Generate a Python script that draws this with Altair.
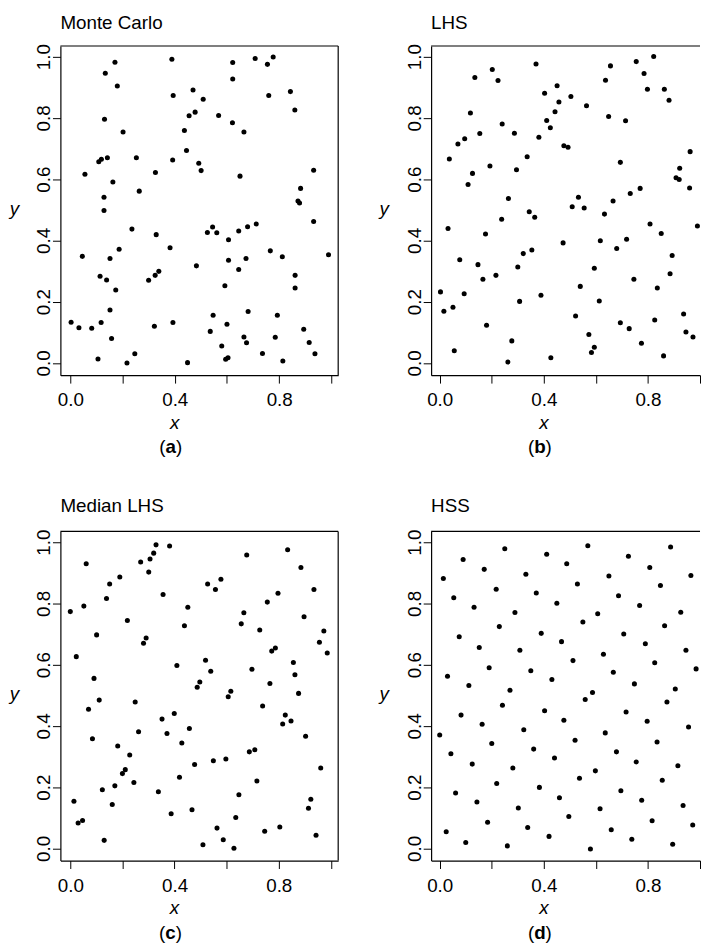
import altair as alt
import pandas as pd

FONT = "Liberation Sans"
FS = 19
TICKS = [0.0, 0.2, 0.4, 0.6, 0.8, 1.0]

# ---- (a) Monte Carlo ----
mc_x = [0.056, 0.134, 0.171, 0.180, 0.131, 0.202, 0.109, 0.119, 0.142, 0.163, 0.129, 0.253, 0.264, 0.326,
        0.389, 0.394, 0.392, 0.470, 0.509, 0.478, 0.455, 0.437, 0.445, 0.492, 0.501, 0.568, 0.622, 0.622,
        0.621, 0.665, 0.650, 0.708, 0.755, 0.777, 0.760, 0.843, 0.860, 0.932, 0.882, 0.872, 0.878,
        0.129, 0.046, 0.114, 0.139, 0.152, 0.187, 0.174, 0.236, 0.152, 0.118, 0.003, 0.033, 0.082, 0.158,
        0.106, 0.217, 0.247, 0.329, 0.300, 0.325, 0.339, 0.322, 0.382, 0.393, 0.449, 0.483, 0.525, 0.545,
        0.561, 0.606, 0.645, 0.679, 0.712, 0.606, 0.645, 0.673, 0.592, 0.547, 0.536, 0.600, 0.580, 0.595,
        0.604, 0.681, 0.665, 0.675, 0.736, 0.766, 0.812, 0.793, 0.785, 0.814, 0.932, 0.989, 0.861, 0.861,
        0.894, 0.915, 0.937]
mc_y = [0.616, 0.946, 0.982, 0.904, 0.796, 0.754, 0.657, 0.665, 0.670, 0.591, 0.541, 0.670, 0.561, 0.622,
        0.992, 0.873, 0.663, 0.891, 0.861, 0.819, 0.807, 0.759, 0.694, 0.652, 0.628, 0.808, 0.981, 0.927,
        0.784, 0.754, 0.610, 0.994, 0.975, 0.999, 0.873, 0.886, 0.826, 0.629, 0.570, 0.529, 0.522,
        0.498, 0.348, 0.283, 0.271, 0.341, 0.371, 0.238, 0.437, 0.173, 0.132, 0.133, 0.115, 0.113, 0.080,
        0.013, 0.000, 0.030, 0.419, 0.270, 0.286, 0.299, 0.120, 0.376, 0.132, 0.001, 0.317, 0.426, 0.444,
        0.425, 0.402, 0.431, 0.445, 0.454, 0.335, 0.305, 0.341, 0.252, 0.156, 0.103, 0.126, 0.055, 0.012,
        0.017, 0.168, 0.085, 0.066, 0.031, 0.366, 0.347, 0.156, 0.084, 0.006, 0.462, 0.353, 0.286, 0.245,
        0.110, 0.067, 0.030]

# ---- (b) LHS ----
lhs_x = [0.037, 0.070, 0.096, 0.118, 0.135, 0.154, 0.126, 0.109, 0.202, 0.224, 0.240, 0.193, 0.287, 0.295,
         0.264, 0.336, 0.370, 0.381, 0.403, 0.411, 0.425, 0.443, 0.451, 0.458, 0.504, 0.477, 0.493, 0.533,
         0.564, 0.637, 0.656, 0.649, 0.714, 0.694, 0.666, 0.732, 0.770, 0.755, 0.785, 0.798, 0.822, 0.863,
         0.881, 0.962, 0.922, 0.908, 0.920, 0.960,
         0.509, 0.555, 0.344, 0.365, 0.238, 0.032, 0.176, 0.633, 0.474, 0.617, 0.680, 0.718, 0.808, 0.851,
         0.990, 0.077, 0.147, 0.166, 0.216, 0.300, 0.321, 0.354, 0.003, 0.016, 0.051, 0.094, 0.180, 0.056,
         0.307, 0.389, 0.277, 0.262, 0.427, 0.540, 0.522, 0.594, 0.613, 0.573, 0.594, 0.583, 0.694, 0.728,
         0.775, 0.746, 0.836, 0.893, 0.885, 0.826, 0.860, 0.937, 0.946, 0.973]
lhs_y = [0.666, 0.715, 0.732, 0.816, 0.932, 0.749, 0.619, 0.583, 0.958, 0.922, 0.780, 0.643, 0.750, 0.631,
         0.537, 0.673, 0.976, 0.737, 0.881, 0.792, 0.768, 0.820, 0.905, 0.852, 0.870, 0.709, 0.704, 0.541,
         0.840, 0.923, 0.970, 0.805, 0.791, 0.655, 0.529, 0.553, 0.570, 0.984, 0.945, 0.894, 1.001, 0.894,
         0.858, 0.690, 0.636, 0.605, 0.599, 0.571,
         0.510, 0.506, 0.494, 0.476, 0.469, 0.439, 0.421, 0.486, 0.392, 0.399, 0.374, 0.404, 0.454, 0.423,
         0.447, 0.337, 0.321, 0.273, 0.286, 0.313, 0.357, 0.369, 0.232, 0.169, 0.182, 0.226, 0.123, 0.040,
         0.201, 0.221, 0.072, 0.003, 0.017, 0.250, 0.153, 0.309, 0.202, 0.093, 0.051, 0.034, 0.131, 0.112,
         0.064, 0.273, 0.245, 0.351, 0.291, 0.140, 0.023, 0.160, 0.101, 0.085]

# ---- (c) Median LHS ----
med_x = [0.000, 0.023, 0.052, 0.061, 0.101, 0.139, 0.151, 0.190, 0.219, 0.270, 0.306, 0.320, 0.329, 0.301,
         0.281, 0.291, 0.381, 0.356, 0.438, 0.451, 0.409, 0.527, 0.557, 0.578, 0.519, 0.677, 0.666, 0.656,
         0.727, 0.756, 0.797, 0.773, 0.787, 0.834, 0.885, 0.935, 0.897, 0.973, 0.956, 0.986, 0.856, 0.697,
         0.091, 0.111, 0.070, 0.085, 0.249, 0.262, 0.182, 0.228, 0.211, 0.200, 0.244, 0.171, 0.123, 0.161,
         0.014, 0.030, 0.047, 0.130, 0.352, 0.371, 0.399, 0.457, 0.428, 0.338, 0.387, 0.419, 0.477, 0.467,
         0.487, 0.497, 0.539, 0.509, 0.549, 0.563, 0.587, 0.597, 0.606, 0.616, 0.628, 0.635, 0.647, 0.687,
         0.708, 0.716, 0.738, 0.766, 0.746, 0.804, 0.815, 0.825, 0.847, 0.862, 0.876, 0.903, 0.914, 0.923,
         0.943, 0.961]
med_y = [0.773, 0.626, 0.791, 0.929, 0.697, 0.816, 0.863, 0.886, 0.744, 0.935, 0.945, 0.964, 0.991, 0.902,
         0.670, 0.687, 0.987, 0.829, 0.727, 0.787, 0.597, 0.863, 0.845, 0.879, 0.614, 0.958, 0.769, 0.733,
         0.713, 0.804, 0.833, 0.644, 0.654, 0.975, 0.917, 0.845, 0.756, 0.710, 0.673, 0.638, 0.607, 0.585,
         0.555, 0.484, 0.454, 0.358, 0.478, 0.381, 0.334, 0.305, 0.257, 0.244, 0.215, 0.204, 0.191, 0.143,
         0.154, 0.083, 0.091, 0.026, 0.422, 0.375, 0.440, 0.391, 0.344, 0.185, 0.113, 0.232, 0.274, 0.126,
         0.526, 0.543, 0.578, 0.012, 0.286, 0.066, 0.028, 0.292, 0.495, 0.513, 0.000, 0.101, 0.175, 0.315,
         0.322, 0.220, 0.465, 0.538, 0.056, 0.070, 0.406, 0.435, 0.416, 0.567, 0.506, 0.366, 0.131, 0.160,
         0.043, 0.262]

# ---- (d) HSS ----
hss_x = [0.014, 0.054, 0.090, 0.075, 0.132, 0.152, 0.171, 0.217, 0.229, 0.190, 0.250, 0.289, 0.308, 0.331,
         0.371, 0.390, 0.350, 0.411, 0.450, 0.468, 0.488, 0.529, 0.550, 0.512, 0.569, 0.607, 0.629, 0.650,
         0.687, 0.707, 0.725, 0.768, 0.790, 0.807, 0.848, 0.864, 0.826, 0.887, 0.926, 0.946, 0.965, 0.985,
         0.030, 0.112, 0.082, 0.000, 0.043, 0.163, 0.200, 0.125, 0.061, 0.219, 0.143, 0.025, 0.100, 0.184,
         0.270, 0.241, 0.323, 0.361, 0.281, 0.302, 0.260, 0.338, 0.383, 0.403, 0.431, 0.477, 0.441, 0.460,
         0.420, 0.496, 0.520, 0.537, 0.559, 0.587, 0.598, 0.616, 0.579, 0.636, 0.667, 0.679, 0.696, 0.659,
         0.716, 0.748, 0.755, 0.776, 0.738, 0.797, 0.835, 0.855, 0.816, 0.873, 0.905, 0.915, 0.935, 0.895,
         0.956, 0.972]
hss_y = [0.881, 0.818, 0.943, 0.691, 0.787, 0.656, 0.911, 0.846, 0.724, 0.590, 0.978, 0.770, 0.647, 0.895,
         0.834, 0.702, 0.580, 0.960, 0.800, 0.675, 0.929, 0.863, 0.739, 0.613, 0.988, 0.766, 0.634, 0.889,
         0.825, 0.700, 0.954, 0.793, 0.668, 0.917, 0.858, 0.727, 0.606, 0.984, 0.771, 0.647, 0.891, 0.586,
         0.562, 0.532, 0.435, 0.370, 0.309, 0.405, 0.342, 0.275, 0.181, 0.212, 0.151, 0.054, 0.019, 0.085,
         0.516, 0.467, 0.387, 0.324, 0.262, 0.132, 0.008, 0.068, 0.199, 0.449, 0.551, 0.418, 0.295, 0.165,
         0.039, 0.104, 0.353, 0.229, 0.486, 0.509, 0.253, 0.129, -0.002, 0.377, 0.575, 0.315, 0.188, 0.061,
         0.445, 0.537, 0.282, 0.157, 0.030, 0.415, 0.347, 0.222, 0.090, 0.478, 0.520, 0.270, 0.140, 0.013,
         0.396, 0.076]

H = 333
YDOM = [-0.04, 1.035]
LINE_W = 1.2
BOLD_W = {"a": 0.556, "b": 0.611, "c": 0.556, "d": 0.611}


def txt(s, x, y, align="center", style="normal", weight="normal"):
    return alt.Chart(pd.DataFrame({"t": [s]})).mark_text(
        align=align, baseline="alphabetic", font=FONT, fontSize=FS,
        fontStyle=style, fontWeight=weight, color="black"
    ).encode(x=alt.value(x), y=alt.value(y), text="t:N")


def panel(xs, ys, title, letter, W, xdom, title_dy, right_edge, ylab_dx, anchor=False):
    df = pd.DataFrame({"x": xs, "y": ys})
    pxu = W / (xdom[1] - xdom[0])
    x04 = (0.4 - xdom[0]) * pxu
    xaxis = alt.Axis(values=TICKS, title=None, grid=False, labelFlush=False, labelOverlap=False,
                     labelPadding=8,
                     labelExpr="round(datum.value*10) % 4 == 0 ? format(datum.value, '.1f') : ''")
    yaxis = alt.Axis(values=TICKS, title=None, grid=False, labelFlush=False, labelOverlap=False,
                     labelAngle=270, labelAlign="center", labelBaseline="alphabetic", labelPadding=3,
                     labelExpr="format(datum.value, '.1f')")
    pts = alt.Chart(df).mark_circle(size=26, color="black", opacity=1, clip=True).encode(
        x=alt.X("x:Q", scale=alt.Scale(domain=xdom, nice=False, zero=False), axis=xaxis),
        y=alt.Y("y:Q", scale=alt.Scale(domain=YDOM, nice=False, zero=False), axis=yaxis),
    )
    layers = [
        pts,
        txt(title, 0, title_dy, align="left"),
        txt("y", ylab_dx, H / 2 + 4.5, style="italic"),
        txt("x", x04, H + 54, style="italic"),
    ]
    cap = x04 - 4
    bw = BOLD_W[letter] * FS
    layers += [
        txt("(", cap - bw / 2, H + 79, align="right"),
        txt(letter, cap, H + 79, weight="bold"),
        txt(")", cap + bw / 2, H + 79, align="left"),
    ]
    rdf = pd.DataFrame({"r": [0]})
    layers.append(alt.Chart(rdf).mark_rule(color="black", strokeWidth=LINE_W).encode(
        x=alt.value(0), x2=alt.value(W), y=alt.value(0)))
    if right_edge:
        layers.append(alt.Chart(rdf).mark_rule(color="black", strokeWidth=LINE_W).encode(
            x=alt.value(W), y=alt.value(0), y2=alt.value(H)))
    if anchor:
        layers.append(alt.Chart(rdf).mark_rule(color="white", strokeWidth=0, opacity=0).encode(
            x=alt.value(-53), x2=alt.value(-53), y=alt.value(-33), y2=alt.value(-32)))
    return alt.layer(*layers).properties(width=W, height=H)


pa = panel(mc_x, mc_y, "Monte Carlo", "a", 281, [-0.038, 1.026], -17, True, -46.5, anchor=True)
pb = panel(lhs_x, lhs_y, "LHS", "b", 272, [-0.033, 1.0], -17, False, -47.5)
pc = panel(med_x, med_y, "Median LHS", "c", 281, [-0.038, 1.028], -20, True, -46.5)
pd_ = panel(hss_x, hss_y, "HSS", "d", 272, [-0.033, 1.0], -20, False, -47.5)

chart = alt.concat(
    pa, pb, pc, pd_, columns=2, spacing={"row": 158, "column": 94}, bounds="flush"
).properties(
    padding={"left": 0, "top": 0, "right": 0, "bottom": 0}
).configure_view(
    stroke=None
).configure_axis(
    labelFont=FONT, labelFontSize=FS, labelColor="black",
    tickColor="black", tickSize=8, tickWidth=1,
    domainColor="black", domainWidth=LINE_W,
)

chart.save("out.html", embed_options={"renderer": "svg", "actions": False})
